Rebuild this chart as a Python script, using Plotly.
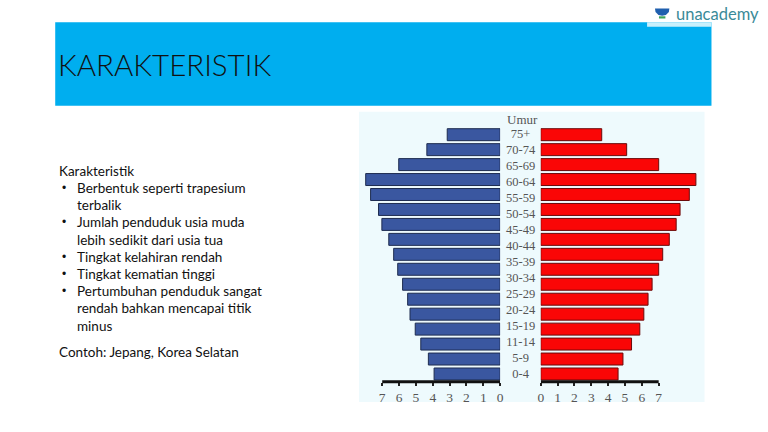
import plotly.graph_objects as go

W, H = 768, 432

# ---------------- data ----------------
age_labels = ["0-4", "5-9", "11-14", "15-19", "20-24", "25-29", "30-34", "35-39",
              "40-44", "45-49", "50-54", "55-59", "60-64", "65-69", "70-74", "75+"]
# 17 bars drawn in the source picture (bottom -> top)
bar_rows = list(range(17))
male = [3.92, 4.26, 4.71, 5.04, 5.35, 5.49, 5.79, 6.08, 6.32,
        6.61, 7.02, 7.22, 7.69, 7.98, 6.02, 4.35, 3.14]
female = [4.59, 4.88, 5.39, 5.88, 6.12, 6.37, 6.61, 7.00, 7.24,
          7.63, 8.04, 8.27, 8.82, 9.21, 7.00, 5.10, 3.62]
tick_vals = [0, 1, 2, 3, 4, 5, 6, 7]
tick_text = [str(v) for v in tick_vals]

title_text = "KARAKTERISTIK"
body_heading = "Karakteristik"
bullet_lines = [
    ("•", "Berbentuk seperti trapesium"),
    ("", "terbalik"),
    ("•", "Jumlah penduduk usia muda"),
    ("", "lebih sedikit dari usia tua"),
    ("•", "Tingkat kelahiran rendah"),
    ("•", "Tingkat kematian tinggi"),
    ("•", "Pertumbuhan penduduk sangat"),
    ("", "rendah bahkan mencapai titik"),
    ("", "minus"),
]
example_text = "Contoh: Jepang, Korea Selatan"


def px(x):
    return x / W


def py(y):
    return 1 - y / H


BLUE = "#3a57a0"
RED = "#fa0606"
SERIF = "Liberation Serif, Times New Roman, serif"
SANS = "Lato, Calibri, Carlito, sans-serif"
GREY = "#555555"

fig = go.Figure()

fig.add_trace(go.Bar(
    y=bar_rows, x=male, orientation="h", xaxis="x", yaxis="y",
    marker=dict(color=BLUE, line=dict(color="#1e2c50", width=1)),
    width=0.8, hoverinfo="x", showlegend=False))
fig.add_trace(go.Bar(
    y=bar_rows, x=female, orientation="h", xaxis="x2", yaxis="y",
    marker=dict(color=RED, line=dict(color="#6a0a0a", width=1)),
    width=0.8, hoverinfo="x", showlegend=False))
fig.add_trace(go.Scatter(
    x=[0] * len(age_labels), y=age_labels, mode="text", text=age_labels,
    textfont=dict(family=SERIF, size=12.5, color=GREY),
    xaxis="x3", yaxis="y2", hoverinfo="skip", showlegend=False))

y_dom = [py(381.7), py(125.7)]
axis_common = dict(showgrid=False, zeroline=False, showline=False,
                   tickvals=tick_vals, ticktext=tick_text,
                   ticks="outside", ticklen=3, tickwidth=2, tickcolor="#222",
                   tickfont=dict(family=SERIF, size=13.5, color=GREY),
                   fixedrange=True)

fig.update_layout(
    width=W, height=H,
    margin=dict(l=0, r=0, t=0, b=0),
    paper_bgcolor="white", plot_bgcolor="rgba(0,0,0,0)",
    bargap=0.2,
    xaxis=dict(domain=[px(362), px(501.7)], range=[(501.7 - 362) / 17, 0],
               anchor="y", **axis_common),
    xaxis2=dict(domain=[px(542.7), px(705)], range=[0, (705 - 542.7) / 17],
                anchor="y", **axis_common),
    xaxis3=dict(domain=[px(502), px(542.7)], range=[-1, 1], visible=False,
                anchor="y2"),
    yaxis=dict(domain=y_dom, range=[-0.515, 16.6], visible=False,
               anchor="x"),
    yaxis2=dict(domain=y_dom, range=[-0.418, 15.56], visible=False,
                type="category", categoryorder="array",
                categoryarray=age_labels, anchor="x3"),
)

shapes = [
    # header band
    dict(type="rect", xref="paper", yref="paper", x0=px(52.7), x1=px(715),
         y0=py(105.7), y1=py(22.3), fillcolor="#00aeef", line=dict(width=0),
         layer="below"),
    # light strip under logo
    dict(type="rect", xref="paper", yref="paper", x0=px(650), x1=px(715),
         y0=py(26.7), y1=py(22.3), fillcolor="#c8f0fc", line=dict(width=0),
         layer="below"),
    # picture panel
    dict(type="rect", xref="paper", yref="paper", x0=px(359.3), x1=px(708),
         y0=py(402), y1=py(111.7), fillcolor="#eefafd", line=dict(width=0),
         layer="below"),
    # axis lines (0..7)
    dict(type="line", xref="x", yref="paper", x0=0, x1=7,
         y0=py(381.7), y1=py(381.7), line=dict(color="#111", width=3)),
    dict(type="line", xref="x2", yref="paper", x0=0, x1=7,
         y0=py(381.7), y1=py(381.7), line=dict(color="#111", width=3)),
]

# logo icon (cup + stem)
def ppath(points):
    s = "M " + " L ".join(f"{px(x):.5f},{py(y):.5f}" for x, y in points) + " Z"
    return s

shapes.append(dict(type="path", xref="paper", yref="paper",
                   path=ppath([(658, 8.5), (672.5, 8.5), (672, 12), (669, 15),
                               (665.2, 15.8), (661.5, 15), (658.5, 12)]),
                   fillcolor="#1f5fae", line=dict(width=0)))
shapes.append(dict(type="rect", xref="paper", yref="paper",
                   x0=px(662), x1=px(668.5), y0=py(18.5), y1=py(16.3),
                   fillcolor="#3aa35a", line=dict(width=0)))
fig.update_layout(shapes=shapes)

ann = []
ann.append(dict(text=title_text, x=px(53.5), y=py(64), xref="paper", yref="paper",
                xanchor="left", yanchor="middle", showarrow=False,
                font=dict(family=SANS, size=29.5, color="#111", weight=300)))
ann.append(dict(text="unacademy", x=px(677), y=py(14), xref="paper", yref="paper",
                xanchor="left", yanchor="middle", showarrow=False,
                font=dict(family=SANS, size=16.5, color="#3a8a98")))
ann.append(dict(text="Umur", x=px(524), y=py(119), xref="paper", yref="paper",
                xanchor="center", yanchor="middle", showarrow=False,
                font=dict(family=SERIF, size=13, color=GREY)))

line_h = 17.2
y0 = 170.7
ann.append(dict(text=body_heading, x=px(54.5), y=py(y0), xref="paper", yref="paper",
                xanchor="left", yanchor="middle", showarrow=False,
                font=dict(family=SANS, size=13.5, color="#111")))
for i, (b, t) in enumerate(bullet_lines):
    yy = y0 + line_h * (i + 1)
    if b:
        ann.append(dict(text=b, x=px(61.7), y=py(yy), xref="paper", yref="paper",
                        xanchor="center", yanchor="middle", showarrow=False,
                        font=dict(family="Arial, Liberation Sans", size=12, color="#111")))
    ann.append(dict(text=t, x=px(73), y=py(yy), xref="paper", yref="paper",
                    xanchor="left", yanchor="middle", showarrow=False,
                    font=dict(family=SANS, size=13.5, color="#111")))
ann.append(dict(text=example_text, x=px(54.5), y=py(351.7), xref="paper", yref="paper",
                xanchor="left", yanchor="middle", showarrow=False,
                font=dict(family=SANS, size=13.5, color="#111")))
fig.update_layout(annotations=ann)

fig.write_html("out.html")
